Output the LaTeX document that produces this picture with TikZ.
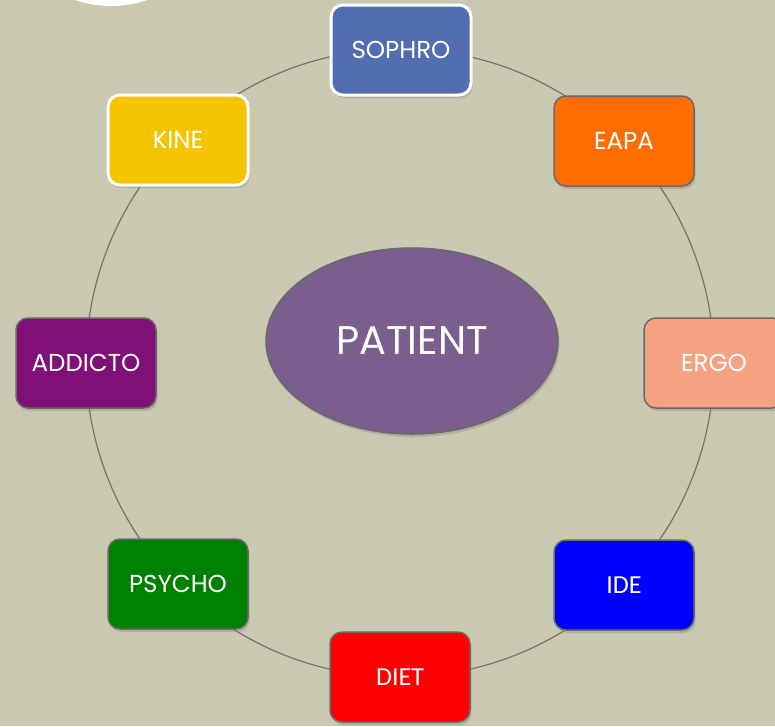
\documentclass[tikz,border=0pt]{standalone}
\usepackage{fontspec}
\setmainfont{Poppins}
\newfontfamily\carl{Carlito}
\usetikzlibrary{shapes.geometric,shadows}
\definecolor{bg}{HTML}{C9C9B1}
\definecolor{edge}{HTML}{6A6A6A}
\definecolor{ring}{HTML}{74746C}
\definecolor{csophro}{HTML}{526EB1}
\definecolor{ckine}{HTML}{F5C400}
\definecolor{ceapa}{HTML}{FF6D00}
\definecolor{cergo}{HTML}{F5A282}
\definecolor{caddicto}{HTML}{7E1077}
\definecolor{cpsycho}{HTML}{008000}
\definecolor{cide}{HTML}{0000FF}
\definecolor{cdiet}{HTML}{FF0000}
\definecolor{cpatient}{HTML}{7B5E8E}
\begin{document}
\begin{tikzpicture}[x=1pt,y=-1pt,
  box/.style={rectangle, rounded corners=12pt, minimum width=140pt, minimum height=90pt,
    draw=edge, line width=1.5pt, text=white, inner sep=0pt,
    font=\fontsize{24.5}{28}\selectfont,
    drop shadow={shadow xshift=1.5pt, shadow yshift=-3pt, opacity=0.35}},
  whitebox/.style={box, draw=white, line width=3pt},
  calbox/.style={box, font=\carl\fontsize{26}{30}\selectfont},
  ringline/.style={draw=ring, line width=1.2pt}]
\useasboundingbox (0,0) rectangle (775,726);
\clip (0,0) rectangle (775,726);
\fill[bg] (0,0) rectangle (775,726);
\fill[white] (111,-105) circle (111);
\coordinate (c) at (400,363);
\draw[ringline] (c) circle (314);
\node[ellipse, minimum width=292pt, minimum height=186pt, fill=cpatient, draw=edge, line width=1.5pt,
  text=white, font=\fontsize{40}{46}\selectfont,
  drop shadow={shadow xshift=1.5pt, shadow yshift=-3pt, opacity=0.35}] (patient) at (412,341) {PATIENT};
\node[whitebox, fill=csophro] (sophro) at (401,50) {SOPHRO};
\node[box, fill=ceapa] (eapa) at (624,141) {EAPA};
\node[box, fill=cergo] (ergo) at (714,363) {ERGO};
\node[calbox, fill=cide] (ide) at (624,585) {IDE};
\node[calbox, fill=cdiet] (diet) at (400,677) {DIET};
\node[box, fill=cpsycho] (psycho) at (178,584) {PSYCHO};
\node[box, fill=caddicto] (addicto) at (86,363) {ADDICTO};
\node[whitebox, fill=ckine] (kine) at (178,140) {KINE};
\end{tikzpicture}
\end{document}
